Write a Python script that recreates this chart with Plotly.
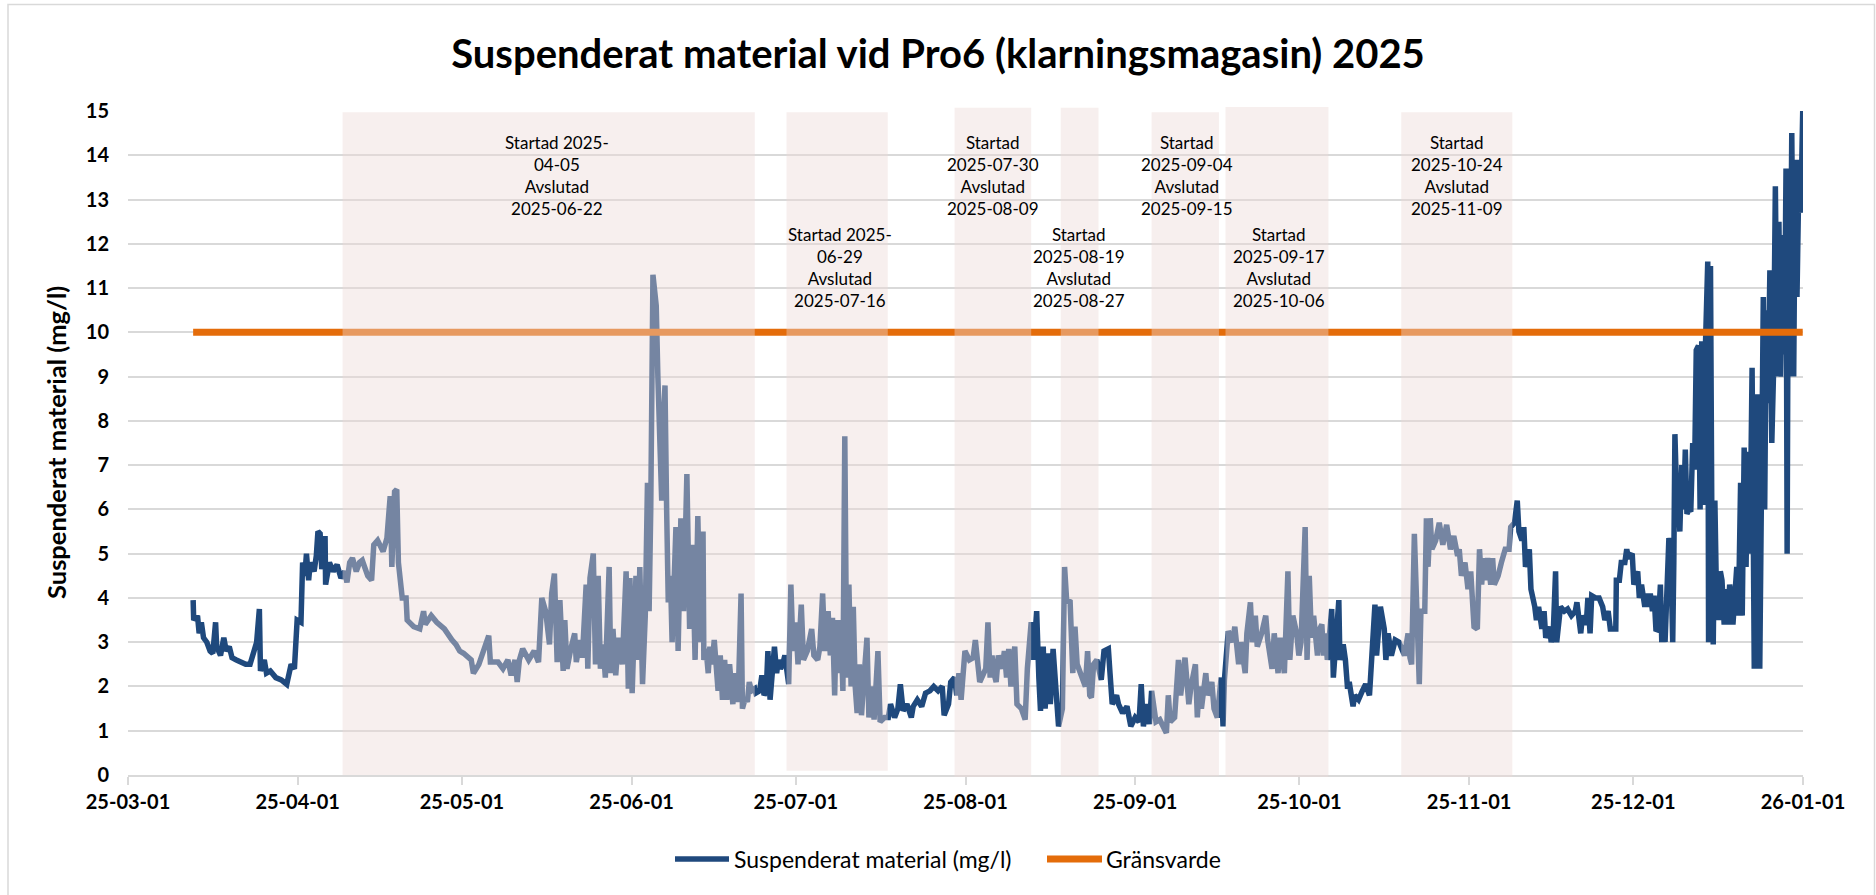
import plotly.graph_objects as go
import pandas as pd

start = pd.Timestamp("2025-03-01")
end = pd.Timestamp("2026-01-01")

title_text = "Suspenderat material vid Pro6 (klarningsmagasin) 2025"
series_name = "Suspenderat material (mg/l)"
limit_name = "Gränsvarde"
y_title = "Suspenderat material (mg/l)"
limit_value = 10

# measurement time (days after 2025-03-01) and value (mg/l)
sm_days = [
    11.9, 12.0, 12.7, 13.0, 13.4, 13.8, 14.4, 15.0, 15.5, 16.0, 16.2, 16.9, 17.5, 17.95, 18.5, 19.0,
    19.8, 20.75, 21.5, 22.3, 22.8, 23.5, 24.0, 24.2, 24.9, 25.3, 26.0, 27.0, 28.0, 29.0, 29.8, 30.4,
    30.9, 31.6, 31.9, 32.3, 32.6, 33.0, 33.3, 34.0, 34.4, 34.7, 35.1, 35.4, 36.0, 36.1, 36.8, 37.5,
    38.2, 38.9, 39.6, 40.0, 40.5, 41.0, 41.7, 42.3, 42.8, 43.8, 44.5, 44.9, 45.6, 46.6, 47.3, 47.9,
    48.2, 48.7, 49.1, 49.4, 50.1, 50.8, 51.0, 52.2, 53.3, 54.0, 54.3, 55.4, 56.4, 57.8, 59.2, 59.9,
    60.6, 61.3, 62.7, 63.1, 64.1, 65.9, 66.2, 67.6, 68.5, 69.4, 70.0, 70.7, 71.1, 71.5, 72.1, 73.2,
    74.2, 75.0, 75.6, 76.3, 77.0, 77.4, 77.9, 78.4, 78.9, 79.5, 79.8, 80.2, 80.9, 81.6, 81.9, 82.6,
    83.0, 83.7, 84.0, 84.4, 85.0, 85.4, 85.9, 86.3, 86.8, 87.2, 87.9, 88.2, 88.6, 89.1, 89.6, 90.3,
    91.0, 91.4, 91.7, 92.1, 92.8, 93.1, 93.5, 94.0, 94.5, 94.9, 95.2, 95.5, 95.9, 96.2, 96.5, 96.8,
    97.1, 97.5, 97.8, 98.1, 98.4, 98.7, 99.1, 99.4, 100.1, 100.5, 101.0, 101.5, 102.1, 102.6, 103.1, 103.6,
    104.1, 104.6, 105.05, 105.2, 105.6, 106.0, 106.3, 106.7, 107.1, 107.5, 107.8, 108.2, 108.6, 109.0, 109.4, 109.9,
    110.5, 110.9, 111.3, 111.6, 112.0, 112.25, 112.8, 113.15, 113.5, 113.9, 114.5, 114.7, 115.4, 115.8, 116.2, 116.6,
    116.9, 117.3, 117.7, 118.1, 118.5, 118.8, 119.2, 119.6, 120.0, 120.35, 120.7, 121.1, 121.5, 122.0, 122.4, 123.0,
    123.4, 124.1, 124.9, 125.3, 126.0, 126.4, 126.9, 127.3, 127.9, 128.3, 128.7, 129.1, 129.4, 129.8, 130.2, 130.6,
    130.95, 131.3, 131.7, 132.1, 132.5, 132.85, 133.2, 133.6, 134.0, 134.4, 135.0, 135.35, 135.9, 136.3, 137.0, 137.4,
    138.2, 138.9, 139.3, 140.05, 140.65, 141.1, 141.6, 142.3, 143.1, 143.45, 144.2, 145.0, 145.7, 146.5, 147.2, 148.0,
    148.75, 149.1, 149.9, 150.3, 151.0, 151.4, 151.8, 152.2, 152.9, 153.7, 154.4, 154.8, 155.2, 155.6, 156.7, 157.1,
    157.5, 157.85, 158.2, 158.6, 159.0, 159.7, 160.1, 160.5, 160.9, 161.3, 162.0, 162.4, 163.2, 163.9, 164.3, 165.0,
    165.4, 166.0, 166.4, 166.7, 167.2, 167.55, 168.1, 168.5, 169.0, 169.4, 170.0, 170.7, 171.1, 171.5, 172.1, 172.6,
    173.0, 173.4, 174.1, 174.9, 175.3, 175.7, 176.0, 176.4, 177.0, 177.8, 178.3, 179.1, 179.4, 179.8, 180.6, 180.95,
    181.7, 182.5, 183.2, 184.0, 184.7, 185.1, 185.5, 186.1, 186.6, 187.0, 187.8, 188.5, 189.7, 190.05, 190.4, 191.2,
    191.9, 192.3, 193.1, 193.45, 193.8, 194.2, 195.0, 195.35, 195.7, 196.1, 196.9, 197.25, 198.0, 198.4, 199.0, 199.7,
    200.05, 200.3, 201.0, 201.8, 202.2, 202.9, 203.3, 204.1, 204.4, 205.05, 205.4, 205.95, 206.3, 207.1, 207.85, 208.2,
    209.0, 209.4, 210.1, 210.5, 211.25, 211.9, 212.25, 212.8, 213.5, 213.9, 214.3, 215.05, 215.4, 215.8, 216.2, 216.6,
    217.3, 217.7, 218.1, 218.4, 218.75, 219.1, 219.9, 220.2, 220.8, 221.2, 221.4, 222.0, 222.4, 222.8, 223.1, 223.8,
    224.1, 224.8, 225.5, 226.1, 226.8, 227.1, 227.8, 228.1, 228.8, 229.5, 229.8, 230.2, 230.8, 231.5, 232.2, 233.2,
    233.85, 234.2, 234.5, 235.0, 235.4, 235.9, 236.2, 236.9, 237.2, 237.5, 237.9, 238.2, 238.55, 238.9, 239.55, 240.2,
    240.9, 241.6, 242.2, 242.9, 243.2, 243.6, 244.25, 244.8, 245.3, 245.9, 246.5, 246.9, 247.3, 247.6, 247.9, 248.4,
    248.95, 249.3, 249.6, 250.3, 250.9, 251.6, 252.3, 252.6, 253.3, 253.8, 254.1, 254.65, 255.0, 255.3, 256.0, 256.3,
    257.0, 257.3, 257.7, 258.3, 258.7, 259.0, 259.7, 260.0, 260.4, 260.8, 261.0, 261.7, 262.4, 263.0, 263.7, 264.4,
    264.7, 265.05, 265.4, 265.7, 266.4, 266.7, 267.1, 267.4, 268.1, 268.75, 269.4, 269.8, 270.4, 270.8, 271.8, 271.9,
    272.45, 272.8, 273.45, 273.8, 274.1, 274.8, 275.1, 275.8, 276.1, 276.5, 276.8, 277.1, 277.5, 277.8, 278.1, 278.5,
    278.8, 279.15, 279.5, 279.95, 280.2, 280.5, 280.8, 281.5, 281.8, 282.2, 282.4, 282.6, 282.85, 283.2, 283.5, 283.85,
    284.2, 284.5, 284.8, 285.2, 285.5, 285.85, 286.2, 286.5, 286.9, 287.2, 287.5, 287.9, 288.2, 288.6, 288.75, 289.1,
    289.35, 289.6, 289.9, 290.2, 290.55, 290.9, 291.2, 291.6, 291.9, 292.2, 292.6, 292.9, 293.2, 293.6, 293.9, 294.2,
    294.6, 294.9, 295.25, 295.6, 295.9, 296.3, 296.7, 297.1, 297.4, 297.6, 297.9, 298.1, 298.5, 298.75, 299.0, 299.3,
    299.6, 299.95, 300.3, 300.6, 300.95, 301.3, 301.6, 301.9, 302.3, 302.6, 302.9, 303.1, 303.3, 303.6, 303.95, 304.3,
    304.6, 304.9, 305.3, 305.6, 305.95,
]
sm_values = [
    3.95, 3.5, 3.6, 3.2, 3.45, 3.1, 3.0, 2.8, 2.75, 3.45, 2.9, 2.7, 3.1, 2.8, 2.9, 2.65,
    2.6, 2.55, 2.5, 2.5, 2.75, 3.0, 3.75, 2.35, 2.6, 2.3, 2.35, 2.2, 2.15, 2.05, 2.5, 2.4,
    3.5, 3.45, 4.8, 4.5, 5.0, 4.4, 4.8, 4.6, 4.95, 5.5, 5.45, 4.65, 5.4, 4.3, 4.8, 4.6,
    4.75, 4.45, 4.6, 4.35, 4.8, 4.9, 4.6, 4.8, 4.85, 4.5, 4.4, 5.2, 5.3, 5.05, 5.35, 6.3,
    4.7, 6.4, 6.45, 4.8, 4.0, 4.0, 3.5, 3.35, 3.3, 3.7, 3.4, 3.6, 3.45, 3.3, 3.05, 2.95,
    2.8, 2.75, 2.6, 2.3, 2.5, 3.15, 2.55, 2.55, 2.4, 2.6, 2.25, 2.6, 2.1, 2.6, 2.85, 2.6,
    2.8, 2.55, 4.0, 3.7, 2.95, 4.1, 4.55, 2.55, 3.95, 2.35, 3.5, 2.4, 2.85, 3.2, 2.55, 3.05,
    2.65, 4.3, 2.4, 4.45, 5.0, 2.5, 4.5, 2.4, 2.95, 2.2, 4.7, 2.3, 3.3, 2.25, 3.1, 2.5,
    4.6, 1.95, 4.45, 1.85, 4.5, 2.6, 4.7, 2.05, 3.6, 6.6, 3.7, 6.0, 11.3, 10.9, 10.6, 9.0,
    7.8, 6.2, 8.0, 8.8, 6.0, 3.9, 4.5, 3.0, 5.6, 2.8, 5.8, 3.7, 6.8, 3.3, 5.2, 2.6,
    5.85, 3.0, 5.5, 2.6, 2.85, 2.3, 2.9, 2.5, 3.05, 2.3, 1.9, 2.7, 1.7, 2.6, 1.7, 2.5,
    1.6, 2.3, 1.65, 2.3, 4.1, 1.5, 1.75, 1.65, 2.1, 1.9, 1.95, 1.85, 1.9, 2.25, 1.8, 1.9,
    2.8, 1.7, 2.45, 2.9, 2.3, 2.6, 2.4, 2.5, 2.7, 2.3, 2.05, 4.3, 2.8, 3.45, 2.5, 3.85,
    2.6, 2.8, 3.3, 2.7, 2.6, 2.9, 4.1, 2.8, 3.7, 2.7, 3.55, 1.8, 3.5, 2.3, 3.5, 1.9,
    7.65, 2.2, 4.3, 2.0, 3.8, 2.0, 1.4, 2.5, 1.35, 2.1, 3.1, 1.3, 2.0, 1.25, 2.8, 1.2,
    1.3, 1.3, 1.6, 1.3, 1.5, 2.05, 1.45, 1.6, 1.3, 1.55, 1.7, 1.55, 1.85, 1.9, 2.0, 1.9,
    2.0, 1.35, 1.6, 2.1, 2.2, 1.8, 2.3, 1.7, 2.8, 2.6, 2.65, 3.05, 2.5, 2.1, 2.4, 3.45,
    2.2, 2.7, 2.3, 2.1, 2.7, 2.4, 2.8, 2.2, 2.85, 2.0, 2.9, 1.6, 1.5, 1.25, 2.4, 3.45,
    2.6, 3.7, 2.2, 1.45, 2.9, 1.5, 2.75, 1.6, 2.85, 2.0, 1.1, 1.5, 4.7, 3.9, 3.95, 2.3,
    3.35, 2.5, 2.3, 2.0, 2.8, 1.8, 1.75, 2.5, 2.6, 2.15, 2.8, 2.85, 2.3, 1.6, 1.8, 1.6,
    1.4, 1.55, 1.1, 1.3, 1.2, 2.05, 1.1, 1.6, 1.15, 1.9, 1.2, 1.25, 0.95, 1.8, 1.2, 1.3,
    2.6, 1.8, 2.65, 2.0, 1.6, 2.0, 2.5, 1.3, 2.0, 1.5, 2.3, 1.8, 2.1, 1.5, 1.3, 2.2,
    1.1, 2.15, 3.25, 3.0, 3.35, 2.5, 3.0, 2.3, 3.2, 3.9, 3.0, 3.6, 2.9, 3.2, 3.6, 3.05,
    2.4, 3.2, 2.3, 3.1, 2.3, 4.6, 2.6, 3.6, 3.2, 2.7, 3.0, 5.6, 2.6, 4.5, 3.1, 3.6,
    2.7, 3.3, 3.4, 2.7, 3.2, 2.6, 3.75, 2.2, 3.5, 3.95, 2.6, 2.95, 2.6, 1.95, 2.1, 1.55,
    1.8, 1.7, 1.9, 2.05, 1.8, 2.45, 3.85, 2.7, 3.8, 3.3, 2.6, 3.2, 2.7, 3.05, 3.0, 2.7,
    3.2, 2.65, 2.5, 5.45, 3.6, 2.05, 3.7, 3.7, 5.8, 4.7, 5.8, 5.1, 5.2, 5.3, 5.7, 5.2,
    5.65, 5.1, 5.4, 4.95, 5.1, 4.5, 4.8, 4.2, 4.6, 3.35, 3.3, 5.1, 4.3, 4.9, 4.4, 4.9,
    4.3, 4.9, 4.3, 4.5, 4.8, 5.1, 5.1, 5.6, 5.7, 6.2, 5.5, 5.3, 5.6, 4.7, 5.1, 4.2,
    3.8, 3.5, 3.8, 3.3, 3.7, 3.1, 3.35, 3.0, 3.3, 4.6, 3.0, 3.8, 3.7, 3.75, 3.6, 3.7,
    3.9, 3.6, 3.2, 3.6, 3.4, 4.0, 3.2, 4.05, 4.0, 4.0, 3.8, 3.5, 3.7, 3.3, 3.3, 4.4,
    4.4, 4.8, 4.8, 5.1, 4.9, 5.0, 4.3, 4.6, 4.0, 4.3, 4.0, 3.8, 4.1, 3.8, 4.1, 3.7,
    4.05, 3.25, 3.3, 4.3, 3.0, 3.75, 3.0, 5.35, 5.2, 3.0, 4.8, 7.7, 6.6, 6.4, 5.5, 7.0,
    6.0, 7.35, 5.9, 6.0, 5.95, 7.5, 6.9, 9.6, 9.7, 6.0, 9.8, 6.1, 9.8, 11.6, 3.0, 11.5,
    5.6, 2.95, 6.2, 4.0, 3.5, 4.6, 4.4, 3.4, 4.2, 3.4, 4.3, 4.0, 3.4, 4.3, 4.7, 3.6,
    6.6, 3.6, 7.4, 4.7, 7.3, 5.0, 9.2, 2.4, 8.6, 6.0, 8.6, 2.4, 6.6, 10.8, 6.0, 10.5,
    8.4, 11.4, 7.5, 9.0, 13.3, 9.0, 12.5, 9.0, 12.2, 9.5, 13.7, 5.0, 12.0, 9.0, 14.5, 9.0,
    13.9, 10.8, 13.9, 12.7, 15.0,
]

# treatment periods (days after 2025-03-01) and their labels
period_start_days = [39.2, 120.3, 151.0, 170.4, 187.0, 200.5, 232.6]
period_end_days = [114.5, 138.8, 165.0, 177.3, 199.3, 219.3, 252.9]
period_labels = [
    "Startad 2025-<br>04-05<br>Avslutad<br>2025-06-22",
    "Startad 2025-<br>06-29<br>Avslutad<br>2025-07-16",
    "Startad<br>2025-07-30<br>Avslutad<br>2025-08-09",
    "Startad<br>2025-08-19<br>Avslutad<br>2025-08-27",
    "Startad<br>2025-09-04<br>Avslutad<br>2025-09-15",
    "Startad<br>2025-09-17<br>Avslutad<br>2025-10-06",
    "Startad<br>2025-10-24<br>Avslutad<br>2025-11-09",
]

# ---- layout helpers (positions/styles) ----
label_day_pos = [78.3, 130.0, 158.1, 173.8, 193.4, 210.2, 242.7]
label_y_pos = [13.54, 11.46, 13.54, 11.46, 13.54, 11.46, 13.54]
shade_top = [0.998, 0.998, 1.005, 1.005, 0.998, 1.006, 0.998]
shade_bottom = [0.0, 0.0065, -0.003, -0.002, -0.002, -0.003, -0.003]

PL, PR, PT, PB = 128, 1803, 111, 775  # plot area in px


def px_x(px):
    return (px - PL) / (PR - PL)


def px_y(py):
    return (PB - py) / (PB - PT)


def to_date(d):
    return start + pd.to_timedelta(d, unit="D")


sm_dates = [to_date(d) for d in sm_days]
limit_dates = [sm_dates[0], sm_dates[-1]]

FONT = "Lato"
BLUE = "#1F497D"
ORANGE = "#E46C0A"
GRID = "#D9D9D9"

fig = go.Figure()
fig.add_trace(go.Scatter(
    x=sm_dates, y=sm_values, mode="lines", name=series_name, showlegend=False,
    line=dict(color=BLUE, width=5.5, shape="linear"),
))
fig.add_trace(go.Scatter(
    x=limit_dates, y=[limit_value, limit_value], mode="lines", name=limit_name,
    showlegend=False, line=dict(color=ORANGE, width=7),
))

shapes = []
for s, e, t, b in zip(period_start_days, period_end_days, shade_top, shade_bottom):
    shapes.append(dict(
        type="rect", xref="x", yref="paper", x0=to_date(s), x1=to_date(e), y0=b, y1=t,
        fillcolor="rgba(236,216,214,0.42)", line=dict(width=0), layer="above",
    ))
# chart border
shapes.append(dict(
    type="rect", xref="paper", yref="paper",
    x0=px_x(8), x1=px_x(1874.5), y0=-0.25, y1=px_y(4.5),
    line=dict(color=GRID, width=1.5), fillcolor="rgba(0,0,0,0)", layer="below",
))
# legend symbols (drawn by hand so that line length matches)
legend_y = px_y(859)
shapes.append(dict(type="line", xref="paper", yref="paper", x0=px_x(675), x1=px_x(729),
                   y0=legend_y, y1=legend_y, line=dict(color=BLUE, width=5.5)))
shapes.append(dict(type="line", xref="paper", yref="paper", x0=px_x(1047), x1=px_x(1102),
                   y0=legend_y, y1=legend_y, line=dict(color=ORANGE, width=7)))

annotations = []
for lbl, d, yv in zip(period_labels, label_day_pos, label_y_pos):
    annotations.append(dict(
        x=to_date(d), y=yv, xref="x", yref="y", text=lbl, showarrow=False,
        xanchor="center", yanchor="middle", align="center",
        font=dict(family=FONT, size=17, color="#000000"),
    ))
annotations.append(dict(
    x=px_x(56), y=0.5, xref="paper", yref="paper", text=y_title,
    showarrow=False, textangle=-90, xanchor="center", yanchor="middle",
    font=dict(family=FONT, size=25.5, color="#000000", weight="bold"),
))
annotations.append(dict(
    x=px_x(732), y=legend_y, xref="paper", yref="paper", text=series_name,
    showarrow=False, xanchor="left", yanchor="middle",
    font=dict(family=FONT, size=23, color="#000000"),
))
annotations.append(dict(
    x=px_x(1104), y=legend_y, xref="paper", yref="paper", text=limit_name,
    showarrow=False, xanchor="left", yanchor="middle",
    font=dict(family=FONT, size=23, color="#000000"),
))

fig.update_layout(
    width=1876, height=895,
    margin=dict(l=PL, r=1876 - PR, t=PT, b=895 - PB),
    paper_bgcolor="white", plot_bgcolor="white",
    showlegend=False,
    title=dict(
        text=title_text, x=0.5, xref="container", xanchor="center",
        y=1 - 54 / 895, yref="container", yanchor="middle",
        font=dict(family=FONT, size=40, color="#000000", weight="bold"),
    ),
    xaxis=dict(
        type="date", range=[start, end], tick0="2025-03-01", dtick="M1",
        tickformat="%y-%m-%d", showgrid=False, zeroline=False,
        showline=True, linecolor=GRID, linewidth=1.5,
        ticks="outside", ticklen=8, tickwidth=1.5, tickcolor=GRID,
        tickfont=dict(family=FONT, size=20, color="#000000", weight="bold"),
    ),
    yaxis=dict(
        range=[0, 15], dtick=1, showgrid=True, gridcolor=GRID, gridwidth=1.5,
        zeroline=False, showline=False, ticks="", ticklabelstandoff=18,
        tickfont=dict(family=FONT, size=20, color="#000000", weight="bold"),
    ),
    shapes=shapes, annotations=annotations,
)

fig.write_html("out.html", config={"displayModeBar": False},
               post_script="document.body.style.margin='0px';")
